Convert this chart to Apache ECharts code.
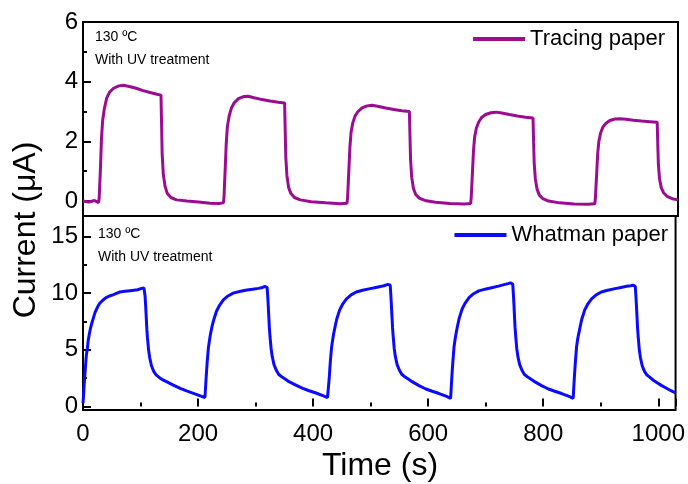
<!DOCTYPE html>
<html>
<head>
<meta charset="utf-8">
<script src="https://cdn.jsdelivr.net/npm/echarts@6/dist/echarts.min.js"></script>
<style>
  html,body{margin:0;padding:0;background:#fff;}
  #main{width:688px;height:484px;}
</style>
</head>
<body>
<div id="main"></div>
<script>
// [time (s), current (uA)]
var tracingPaper = [
  [0,0.0],[10,-0.03],[20,0.02],[27,-0.05],[28,0.1],[30,1.0],[32,2.1],[34,2.7],[37,3.1],[41,3.45],[46,3.65],[53,3.78],[62,3.86],[70,3.88],[80,3.84],[92,3.78],[104,3.7],[116,3.64],[128,3.58],[135,3.55],
  [136,2.6],[137,1.6],[139,0.9],[142,0.5],[146,0.25],[152,0.12],[162,0.04],[180,0.0],[200,-0.03],[220,-0.07],[235,-0.08],[243,-0.06],
  [244,0.1],[246,1.0],[248,1.95],[250,2.5],[253,2.85],[257,3.12],[262,3.3],[269,3.43],[278,3.5],[286,3.51],[296,3.46],[310,3.4],[324,3.35],[338,3.31],[349,3.29],
  [350,2.4],[351,1.5],[353,0.85],[356,0.45],[360,0.25],[366,0.12],[376,0.04],[395,-0.02],[420,-0.06],[445,-0.09],[457,-0.07],
  [458,0.1],[460,0.95],[462,1.8],[464,2.3],[467,2.62],[471,2.85],[476,3.0],[483,3.12],[492,3.19],[500,3.21],[510,3.18],[524,3.12],[538,3.07],[552,3.03],[565,3.0],
  [566,2.2],[567,1.4],[569,0.8],[572,0.42],[576,0.22],[582,0.1],[592,0.02],[610,-0.04],[635,-0.08],[660,-0.1],[671,-0.08],
  [672,0.1],[674,0.9],[676,1.7],[678,2.15],[681,2.45],[685,2.65],[690,2.8],[697,2.9],[706,2.96],[715,2.98],[725,2.95],[738,2.9],[752,2.85],[766,2.81],[779,2.78],
  [780,2.0],[781,1.3],[783,0.75],[786,0.4],[790,0.2],[796,0.08],[806,0.0],[825,-0.06],[850,-0.1],[875,-0.11],[886,-0.09],
  [887,0.1],[889,0.85],[891,1.6],[893,2.0],[896,2.28],[900,2.48],[905,2.6],[912,2.7],[921,2.75],[930,2.76],[940,2.74],[953,2.71],[967,2.68],[981,2.66],[994,2.64],
  [995,1.9],[996,1.25],[998,0.75],[1001,0.45],[1005,0.28],[1011,0.16],[1020,0.08],[1030,0.04]
];

var whatmanPaper = [
  [0,0.3],[1,1.0],[2,1.9],[3,2.6],[4,3.3],[5,4.0],[6,4.6],[7.5,5.1],[9,5.8],[11,6.4],[13,6.9],[15,7.3],[18,7.8],[21,8.3],[25,8.75],[29,9.1],[34,9.35],[40,9.6],[46,9.75],[52,9.85],[58,9.98],[64,10.1],[73,10.16],[82,10.22],[95,10.3],[102,10.42],[106,10.45],
  [107,10.3],[108,9.7],[109,8.8],[110,7.8],[111,6.8],[112,6.1],[114,5.0],[116,4.3],[119,3.6],[123,3.1],[127,2.8],[133,2.55],[139,2.35],[145,2.2],[157,1.9],[169,1.6],[180,1.38],[192,1.17],[205,0.93],[212,0.8],
  [213,0.8],[214,2.5],[215,3.3],[216,4.0],[218,5.2],[220,5.9],[222,6.5],[224,7.0],[227,7.6],[232,8.4],[237,8.9],[244,9.4],[252,9.75],[261,10.0],[272,10.15],[285,10.28],[295,10.35],[305,10.42],[312,10.5],[316,10.6],[319,10.62],
  [320,10.5],[321,9.8],[322,8.9],[323,7.9],[324,6.9],[325,6.2],[327,5.1],[329,4.4],[332,3.7],[336,3.2],[340,2.85],[346,2.6],[352,2.4],[358,2.2],[370,1.9],[382,1.6],[393,1.4],[405,1.2],[418,0.95],[425,0.8],
  [427,0.75],[428,2.5],[429,3.3],[430,4.0],[432,5.2],[434,5.9],[436,6.5],[438,7.0],[441,7.7],[446,8.5],[451,9.0],[458,9.5],[466,9.85],[475,10.1],[486,10.25],[499,10.4],[509,10.5],[519,10.6],[526,10.7],[530,10.78],[533,10.8],
  [534,10.7],[535,9.9],[536,9.0],[537,8.0],[538,7.0],[539,6.3],[541,5.1],[543,4.4],[546,3.7],[550,3.2],[554,2.85],[560,2.6],[566,2.4],[572,2.2],[584,1.85],[596,1.55],[607,1.35],[619,1.15],[632,0.9],[639,0.73],
  [640,0.73],[641,2.5],[642,3.3],[643,4.0],[645,5.3],[647,6.0],[649,6.6],[651,7.1],[654,7.8],[659,8.6],[664,9.1],[671,9.6],[679,9.95],[688,10.2],[699,10.35],[712,10.5],[722,10.62],[732,10.75],[739,10.84],[743,10.9],[746,10.92],
  [747,10.8],[748,10.0],[749,9.1],[750,8.0],[751,7.0],[752,6.3],[754,5.1],[756,4.4],[759,3.7],[763,3.2],[767,2.85],[773,2.6],[779,2.4],[785,2.2],[797,1.85],[809,1.55],[820,1.35],[832,1.15],[845,0.9],[852,0.73],
  [853,0.73],[854,2.5],[855,3.3],[856,4.0],[858,5.3],[860,6.0],[862,6.5],[864,7.0],[867,7.7],[872,8.5],[877,9.0],[884,9.5],[892,9.85],[901,10.1],[912,10.25],[925,10.4],[935,10.5],[945,10.6],[952,10.66],[956,10.7],[959,10.72],
  [960,10.6],[961,9.8],[962,8.9],[963,7.9],[964,6.9],[965,6.2],[967,5.0],[969,4.3],[972,3.6],[976,3.1],[980,2.8],[986,2.55],[992,2.3],[998,2.1],[1006,1.85],[1015,1.6],[1022,1.4],[1030,1.2]
];

var topMajor = [0, 2, 4, 6];
var topMinor = [1, 3, 5];
var bottomMajor = [0, 5, 10, 15];
var bottomMinor = [2.5, 7.5, 12.5];

var font = 'Arial, "Liberation Sans", sans-serif';
var purple = '#9b0c93';
var blue = '#0a0aff';

function majorY(grid, min, max, vals) {
  return {
    type: 'value', gridIndex: grid, position: 'left', min: min, max: max,
    axisLine: {show: false}, splitLine: {show: false},
    axisTick: {show: true, inside: true, length: 8, customValues: vals, lineStyle: {color: '#000', width: 2}},
    axisLabel: {show: true, customValues: vals, margin: 5, color: '#000', fontSize: 24, fontFamily: font}
  };
}
function minorY(grid, min, max, vals) {
  return {
    type: 'value', gridIndex: grid, position: 'left', min: min, max: max,
    axisLine: {show: false}, splitLine: {show: false}, axisLabel: {show: false},
    axisTick: {show: true, inside: true, length: 4, customValues: vals, lineStyle: {color: '#000', width: 2}}
  };
}

var chart = echarts.init(document.getElementById('main'));
var option = {
  animation: false,
  backgroundColor: '#fff',
  grid: [
    {left: 83, right: 10, top: 22, height: 194, show: true, borderColor: '#000', borderWidth: 2},
    {left: 83, right: 10, top: 216, height: 194, show: true, borderColor: '#000', borderWidth: 2}
  ],
  xAxis: [
    {type: 'value', gridIndex: 0, min: 0, max: 1030, interval: 200,
     axisLine: {show: false}, axisTick: {show: false}, axisLabel: {show: false}, splitLine: {show: false}},
    {type: 'value', gridIndex: 1, min: 0, max: 1030, interval: 200,
     axisLine: {show: false}, splitLine: {show: false},
     axisTick: {show: true, inside: true, length: 8, lineStyle: {color: '#000', width: 2}},
     minorTick: {show: true, splitNumber: 2, length: 4, lineStyle: {color: '#000', width: 2}},
     axisLabel: {margin: 12, color: '#000', fontSize: 24, fontFamily: font, showMaxLabel: false,
       formatter: function(v){ return String(v); }}}
  ],
  yAxis: [
    majorY(0, -0.5, 6, topMajor),
    minorY(0, -0.5, 6, topMinor),
    majorY(1, -0.3, 16.8, bottomMajor),
    minorY(1, -0.3, 16.8, bottomMinor)
  ],
  legend: [
    {data: ['Tracing paper'], right: 23, top: 28, padding: 0, icon: 'rect', itemWidth: 52, itemHeight: 4,
     textStyle: {color: '#000', fontSize: 22, fontFamily: font, lineHeight: 22}},
    {data: ['Whatman paper'], right: 20, top: 224, padding: 0, icon: 'rect', itemWidth: 52, itemHeight: 4,
     textStyle: {color: '#000', fontSize: 22, fontFamily: font, lineHeight: 22}}
  ],
  series: [
    {name: 'Tracing paper', type: 'line', xAxisIndex: 0, yAxisIndex: 0, data: tracingPaper,
     showSymbol: false, color: purple, lineStyle: {width: 3, color: purple}},
    {name: 'Whatman paper', type: 'line', xAxisIndex: 1, yAxisIndex: 2, data: whatmanPaper,
     showSymbol: false, color: blue, lineStyle: {width: 3, color: blue}}
  ],
  graphic: [
    {type: 'text', left: 95, top: 30, style: {text: '130 ºC', fontSize: 14, fontFamily: font, fill: '#000'}},
    {type: 'text', left: 95, top: 53, style: {text: 'With UV treatment', fontSize: 14, fontFamily: font, fill: '#000'}},
    {type: 'text', left: 98, top: 227, style: {text: '130 ºC', fontSize: 14, fontFamily: font, fill: '#000'}},
    {type: 'text', left: 98, top: 250, style: {text: 'With UV treatment', fontSize: 14, fontFamily: font, fill: '#000'}},
    {type: 'text', x: 26, y: 230, rotation: Math.PI / 2,
     style: {text: 'Current (μA)', fontSize: 32, fontFamily: font, fill: '#000', textAlign: 'center', textVerticalAlign: 'middle'}},
    {type: 'text', x: 380, y: 466,
     style: {text: 'Time (s)', fontSize: 32, fontFamily: font, fill: '#000', textAlign: 'center', textVerticalAlign: 'middle'}}
  ]
};
chart.setOption(option);
</script>
</body>
</html>
